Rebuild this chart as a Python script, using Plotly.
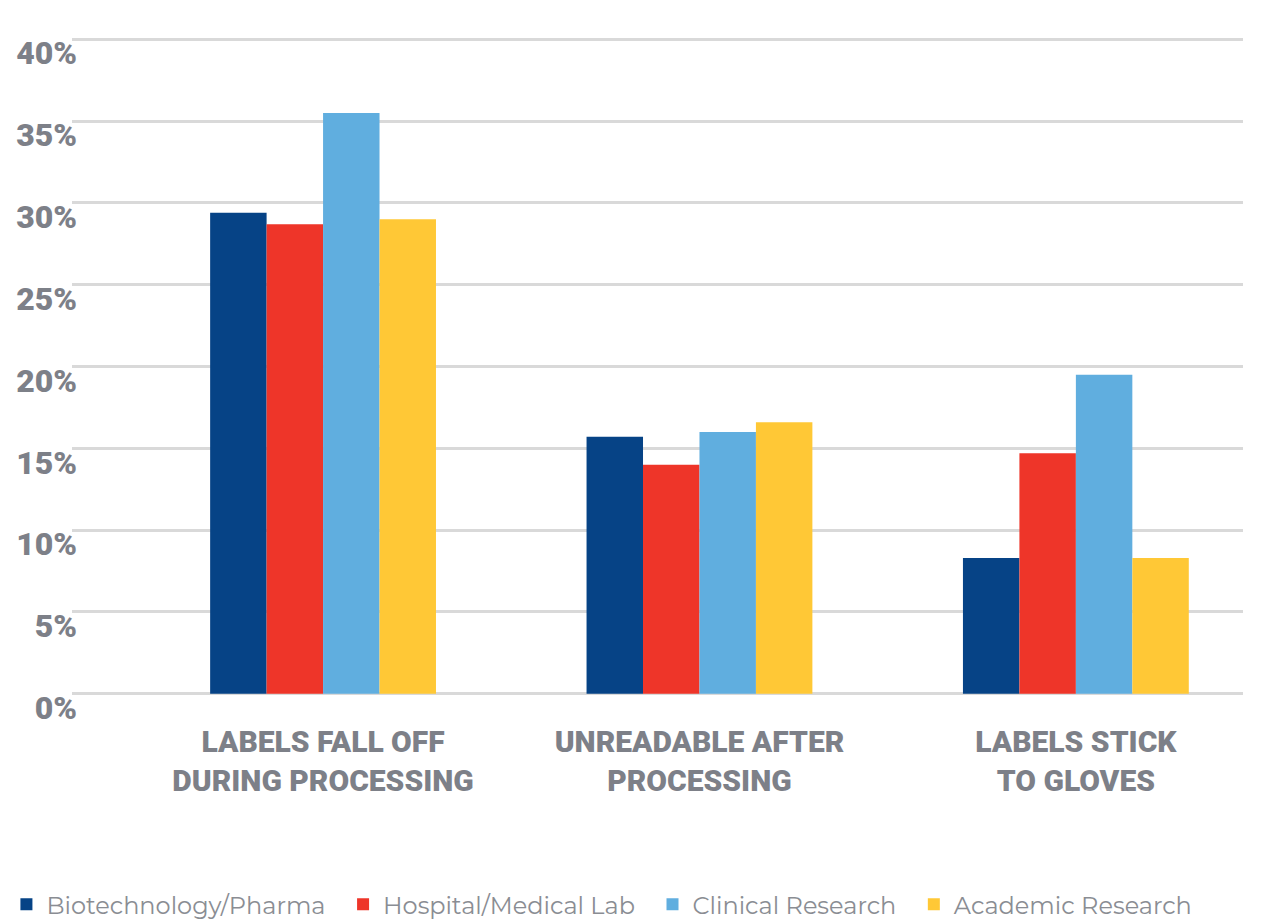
import plotly.graph_objects as go

categories = ["LABELS FALL OFF<br>DURING PROCESSING", "UNREADABLE AFTER<br>PROCESSING", "LABELS STICK<br>TO GLOVES"]
series_names = ["Biotechnology/Pharma", "Hospital/Medical Lab", "Clinical Research", "Academic Research"]
biotech = [29.4, 15.7, 8.3]
hospital = [28.7, 14.0, 14.7]
clinical = [35.5, 16.0, 19.5]
academic = [29.0, 16.6, 8.3]
colors = ["#064386", "#EE3529", "#60AEDF", "#FFC836"]
y_ticks = [0, 5, 10, 15, 20, 25, 30, 35, 40]
y_ticktext = [f"{v}%" for v in y_ticks]

pad = "\u00a0" * 2

fig = go.Figure()
for name, vals, col in zip(series_names, [biotech, hospital, clinical, academic], colors):
    fig.add_trace(go.Bar(x=categories, y=vals, name=name + pad, marker=dict(color=col, line=dict(width=0))))

fig.update_layout(
    width=1255, height=911,
    paper_bgcolor="white", plot_bgcolor="white",
    barmode="group", bargap=0.4, bargroupgap=0,
    margin=dict(l=64, r=20, t=28, b=222, autoexpand=False),
    font=dict(family="Roboto", color="#7D8088"),
    showlegend=True,
    legend=dict(orientation="h", x=-0.056, xref="paper", y=-0.314, yanchor="middle", xanchor="left",
                font=dict(family="Montserrat, Noto Sans", size=24, color="#8A8D93"),
                itemwidth=30, traceorder="normal"),
    xaxis=dict(range=[-0.667, 2.444], showgrid=False, showline=False, zeroline=False, automargin=False,
               ticks="", tickfont=dict(family="Roboto", size=30, color="#7D8088", weight=900),
               ticklabelstandoff=24),
    yaxis=dict(range=[-0.2, 40.2], tickvals=y_ticks, ticktext=y_ticktext, showgrid=True, automargin=False,
               gridcolor="#D9D9D9", gridwidth=3, zeroline=False, showline=False, ticks="",
               tickfont=dict(family="Roboto", size=32, color="#7D8088", weight=900),
               ticklabelshift=14, ticklabelstandoff=-6),
)
fig.write_html("out.html")
